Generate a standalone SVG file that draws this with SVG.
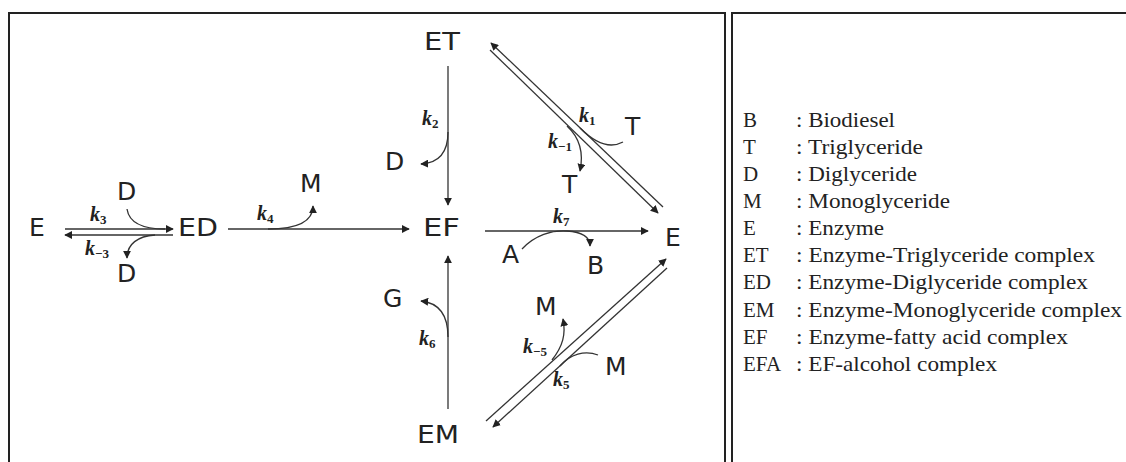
<svg xmlns="http://www.w3.org/2000/svg" width="1126" height="462" viewBox="0 0 1126 462">
<defs>
<marker id="ah" viewBox="0 0 10 10" refX="9" refY="5" markerWidth="8" markerHeight="8" markerUnits="userSpaceOnUse" orient="auto">
<path d="M0,0 L10,5 L0,10 z" fill="#222"/>
</marker>
<style>
.frame{fill:none;stroke:#222;stroke-width:2}
.ln{fill:none;stroke:#333;stroke-width:1.3}
.ar{fill:none;stroke:#333;stroke-width:1.3;marker-end:url(#ah)}
.nd{font-family:"DejaVu Sans",sans-serif;font-size:25px;fill:#222}
.k{font-family:"Liberation Serif",serif;font-size:20px;font-weight:bold;font-style:italic;fill:#222}
.sub{font-size:13px;font-style:normal}
.lg{font-family:"Liberation Serif",serif;font-size:21px;fill:#222}
</style>
</defs>
<rect class="frame" x="9" y="13" width="716" height="500"/>
<rect class="frame" x="732" y="13" width="500" height="500"/>

<g id="connectors">
<path class="ar" d="M65,229 L173,229"/>
<path class="ar" d="M173,235 L65,235"/>
<path class="ln" d="M127,209 C129,222 142,229 165,229"/>
<path class="ar" d="M155,235 C138,236 127,244 127,258"/>
<path class="ar" d="M228,229 L409,229"/>
<path class="ar" d="M268,229 C298,229 313,222 313,206"/>
<path class="ar" d="M448,66 L448,205"/>
<path class="ar" d="M448,132 C448,152 440,163 421,164"/>
<path class="ar" d="M448,409 L448,256"/>
<path class="ar" d="M448,337 C448,316 440,303 421,301"/>
<path class="ar" d="M485,231 L648,231"/>
<path class="ar" d="M522,249 C535,235 552,230 567,231 C582,232 590,237 590,246"/>
<path class="ar" d="M663,207 L491,43"/>
<path class="ar" d="M490,50 L658,213"/>
<path class="ln" d="M623,142 C608,150 592,140 580,128"/>
<path class="ar" d="M567,126 C580,138 584,152 580,171"/>
<path class="ar" d="M486,421 L666,259"/>
<path class="ar" d="M667,268 L493,427"/>
<path class="ar" d="M552,360 C563,346 566,334 563,319"/>
<path class="ln" d="M598,355 C585,350 570,354 560,366"/>
</g>

<g id="labels">
<text class="k" x="90" y="221">k<tspan class="sub" dy="3">3</tspan></text>
<text class="k" x="85" y="255">k<tspan class="sub" dy="3">−3</tspan></text>
<text class="k" x="257" y="220">k<tspan class="sub" dy="3">4</tspan></text>
<text class="k" x="422" y="125">k<tspan class="sub" dy="3">2</tspan></text>
<text class="k" x="579" y="122">k<tspan class="sub" dy="3">1</tspan></text>
<text class="k" x="548" y="148">k<tspan class="sub" dy="3">−1</tspan></text>
<text class="k" x="553" y="223">k<tspan class="sub" dy="3">7</tspan></text>
<text class="k" x="419" y="345">k<tspan class="sub" dy="3">6</tspan></text>
<text class="k" x="523" y="353">k<tspan class="sub" dy="3">−5</tspan></text>
<text class="k" x="553" y="386">k<tspan class="sub" dy="3">5</tspan></text>
</g>

<g id="node-E-left"><text class="nd" x="29" y="236">E</text></g>
<g id="node-ED"><text class="nd" x="178" y="236" textLength="40" lengthAdjust="spacingAndGlyphs">ED</text></g>
<g id="node-D-in"><text class="nd" x="117" y="200">D</text></g>
<g id="node-D-out"><text class="nd" x="117" y="282">D</text></g>
<g id="node-M-k4"><text class="nd" x="300" y="192">M</text></g>
<g id="node-ET"><text class="nd" x="424" y="50" textLength="36" lengthAdjust="spacingAndGlyphs">ET</text></g>
<g id="node-D-k2"><text class="nd" x="385" y="170">D</text></g>
<g id="node-EF"><text class="nd" x="423" y="236" textLength="37" lengthAdjust="spacingAndGlyphs">EF</text></g>
<g id="node-T-in"><text class="nd" x="625" y="135">T</text></g>
<g id="node-T-out"><text class="nd" x="562" y="193">T</text></g>
<g id="node-E-right"><text class="nd" x="665" y="246">E</text></g>
<g id="node-A"><text class="nd" x="502" y="263">A</text></g>
<g id="node-B"><text class="nd" x="587" y="274">B</text></g>
<g id="node-G"><text class="nd" x="383" y="307">G</text></g>
<g id="node-M-out"><text class="nd" x="535" y="315">M</text></g>
<g id="node-M-in"><text class="nd" x="605" y="375">M</text></g>
<g id="node-EM"><text class="nd" x="417" y="443" textLength="42" lengthAdjust="spacingAndGlyphs">EM</text></g>

<g id="legend">
<text class="lg" x="743" y="127">B</text><text class="lg" x="796" y="127" textLength="99" lengthAdjust="spacingAndGlyphs">: Biodiesel</text>
<text class="lg" x="743" y="154">T</text><text class="lg" x="796" y="154" textLength="127" lengthAdjust="spacingAndGlyphs">: Triglyceride</text>
<text class="lg" x="743" y="181">D</text><text class="lg" x="796" y="181" textLength="121" lengthAdjust="spacingAndGlyphs">: Diglyceride</text>
<text class="lg" x="743" y="208">M</text><text class="lg" x="796" y="208" textLength="154" lengthAdjust="spacingAndGlyphs">: Monoglyceride</text>
<text class="lg" x="743" y="235">E</text><text class="lg" x="796" y="235" textLength="88" lengthAdjust="spacingAndGlyphs">: Enzyme</text>
<text class="lg" x="743" y="262">ET</text><text class="lg" x="796" y="262" textLength="299" lengthAdjust="spacingAndGlyphs">: Enzyme-Triglyceride complex</text>
<text class="lg" x="743" y="289">ED</text><text class="lg" x="796" y="289" textLength="292" lengthAdjust="spacingAndGlyphs">: Enzyme-Diglyceride complex</text>
<text class="lg" x="743" y="317">EM</text><text class="lg" x="796" y="317" textLength="326" lengthAdjust="spacingAndGlyphs">: Enzyme-Monoglyceride complex</text>
<text class="lg" x="743" y="344">EF</text><text class="lg" x="796" y="344" textLength="272" lengthAdjust="spacingAndGlyphs">: Enzyme-fatty acid complex</text>
<text class="lg" x="743" y="371">EFA</text><text class="lg" x="796" y="371" textLength="201" lengthAdjust="spacingAndGlyphs">: EF-alcohol complex</text>
</g>
</svg>
